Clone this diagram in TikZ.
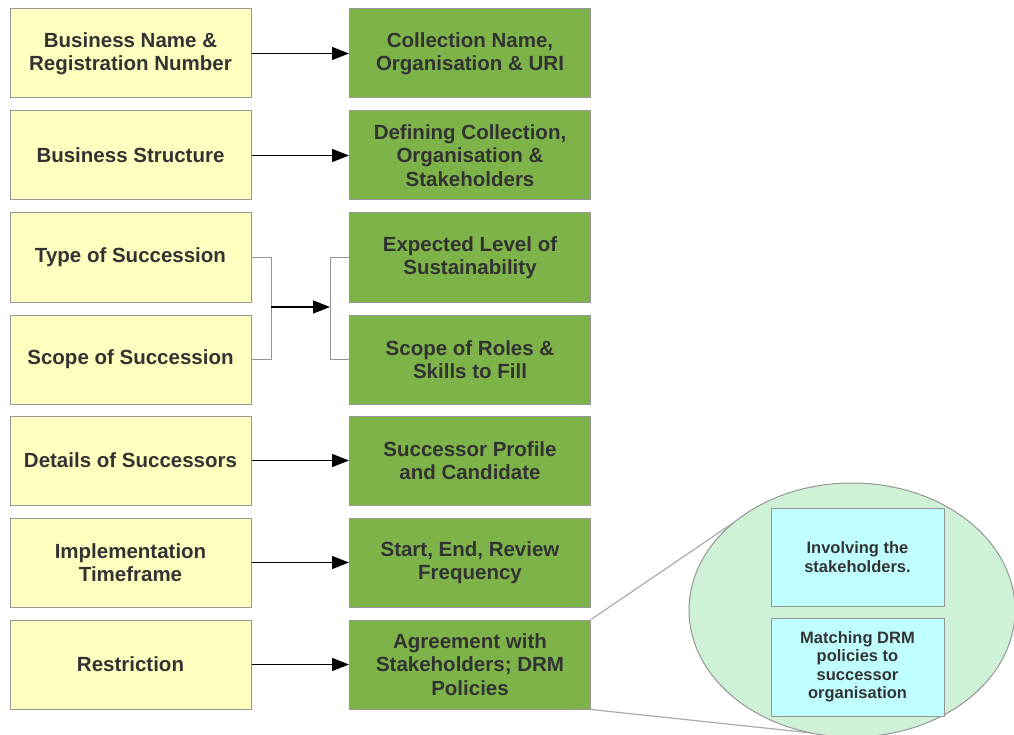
\documentclass[tikz,border=0pt]{standalone}
\usepackage{fontspec}
\setmainfont{Liberation Sans}
\usetikzlibrary{arrows.meta,shapes.geometric}
\definecolor{inputfill}{RGB}{255,255,192}
\definecolor{outputfill}{RGB}{125,179,72}
\definecolor{detailfill}{RGB}{192,255,255}
\definecolor{zoomfill}{RGB}{206,241,216}
\definecolor{framegray}{RGB}{150,150,150}
\definecolor{textgray}{RGB}{51,51,51}
\tikzset{
  box/.style={draw=framegray, line width=1pt, minimum width=241pt, minimum height=89pt,
    align=center, text=textgray, font=\fontsize{20.5}{23.5}\selectfont\bfseries, inner sep=0pt},
  inbox/.style={box, fill=inputfill},
  outbox/.style={box, fill=outputfill},
  detailbox/.style={draw=framegray, line width=1pt, fill=detailfill, minimum width=173pt,
    minimum height=98pt, align=center, text=textgray,
    font=\fontsize{16.5}{18.5}\selectfont\bfseries, inner sep=0pt},
  flow/.style={line width=1.3pt, -{Triangle[length=17pt,width=13pt]}},
  joinline/.style={draw=framegray, line width=1pt},
  zoomline/.style={draw=framegray!80, line width=1.2pt}
}
\begin{document}
\begin{tikzpicture}[x=1pt,y=-1pt]
\useasboundingbox (0,0) rectangle (1014,735);

% left column: inputs
\node[inbox] (y1) at (130.5,53.5)  {Business Name \&\\Registration Number};
\node[inbox] (y2) at (130.5,155.5) {Business Structure};
\node[inbox] (y3) at (130.5,257.5) {Type of Succession};
\node[inbox] (y4) at (130.5,359.5) {Scope of Succession};
\node[inbox] (y5) at (130.5,460.5) {Details of Successors};
\node[inbox] (y6) at (130.5,562.5) {Implementation\\Timeframe};
\node[inbox] (y7) at (130.5,664.5) {Restriction};

% right column: outputs
\node[outbox] (g1) at (470,53.5)  {Collection Name,\\Organisation \& URI};
\node[outbox] (g2) at (470,155.5) {Defining Collection,\\Organisation \&\\Stakeholders};
\node[outbox] (g3) at (470,257.5) {Expected Level of\\Sustainability};
\node[outbox] (g4) at (470,359.5) {Scope of Roles \&\\Skills to Fill};
\node[outbox] (g5) at (470,460.5) {Successor Profile\\and Candidate};
\node[outbox] (g6) at (470,562.5) {Start, End, Review\\Frequency};
\node[outbox] (g7) at (470,664.5) {Agreement with\\Stakeholders; DRM\\Policies};

% one-to-one mappings
\draw[flow] (y1) -- (g1);
\draw[flow] (y2) -- (g2);
\draw[flow] (y5) -- (g5);
\draw[flow] (y6) -- (g6);
\draw[flow] (y7) -- (g7);

% two inputs merged into two outputs
\coordinate (j1) at (271,307);
\coordinate (j2) at (330,307);
\draw[joinline] (y3.east) -| (j1);
\draw[joinline] (y4.east) -| (j1);
\draw[flow] (j1) -- (j2);
\draw[joinline] (j2) |- (g3.west);
\draw[joinline] (j2) |- (g4.west);

% magnified detail of the last output
\coordinate (t1) at (733,523);
\coordinate (t2) at (812,733);
\draw[zoomline] (g7.north east) -- (t1);
\draw[zoomline] (g7.south east) -- (t2);
\node[draw=framegray, line width=1pt, fill=zoomfill, ellipse, minimum width=326pt,
      minimum height=254pt, inner sep=0pt] (zoom) at (852,610) {};
\node[detailbox] (d1) at (857.5,557) {Involving the\\stakeholders.};
\node[detailbox] (d2) at (857.5,667) {Matching DRM\\policies to\\successor\\organisation};
\end{tikzpicture}
\end{document}
